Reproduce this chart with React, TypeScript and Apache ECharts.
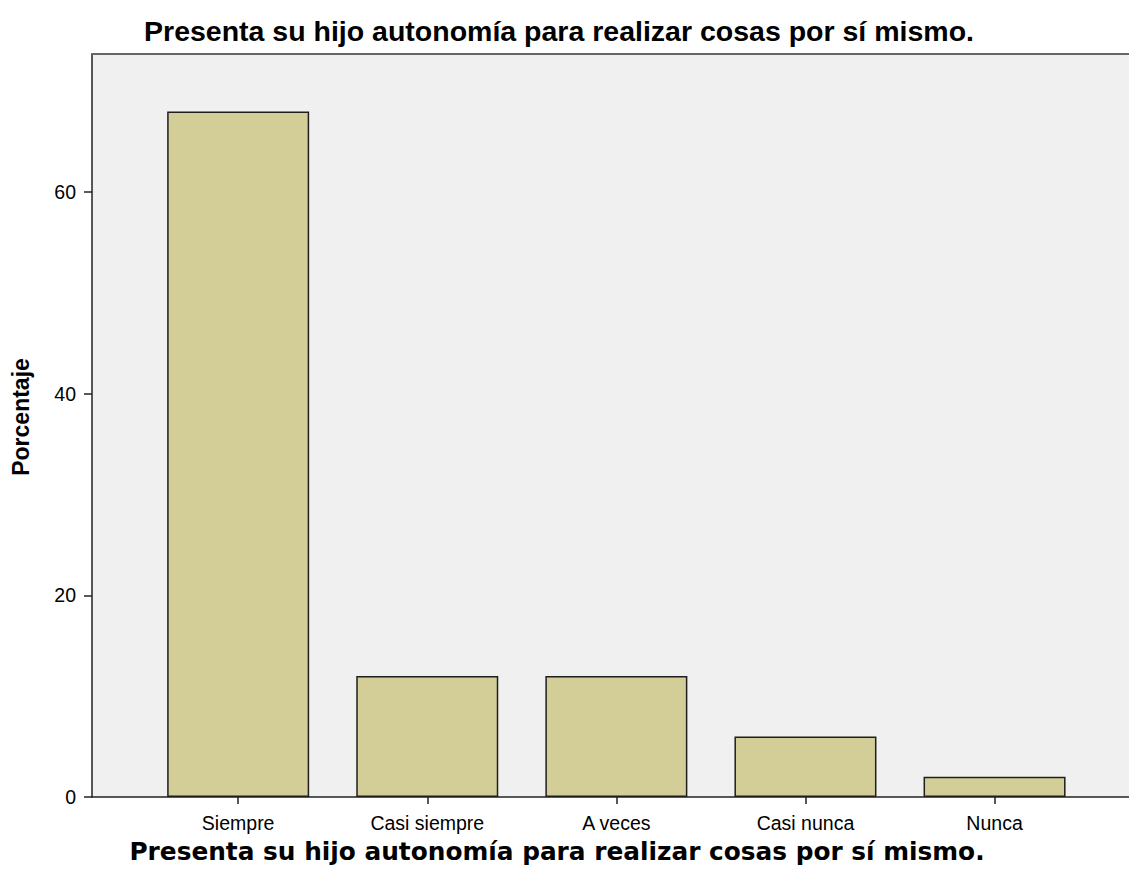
import React, { useEffect, useRef } from "react";
import * as echarts from "echarts";

const chartTitle = "Presenta su hijo autonomía para realizar cosas por sí mismo.";
const xAxisTitle = "Presenta su hijo autonomía para realizar cosas por sí mismo.";
const yAxisTitle = "Porcentaje";
const categories = ["Siempre", "Casi siempre", "A veces", "Casi nunca", "Nunca"];
const percentages = [68, 12, 12, 6, 2];
const yTicks = [0, 20, 40, 60];
const catPositions = categories.map((_, i) => i);

export default function App() {
  const ref = useRef<HTMLDivElement>(null);

  useEffect(() => {
    document.body.style.margin = "0";
    if (!ref.current) return;
    const chart = echarts.init(ref.current, undefined, { renderer: "svg" });
    const xMin = -0.773;
    const xMax = 4.711;
    chart.setOption({
      animation: false,
      backgroundColor: "#ffffff",
      grid: {
        left: 92,
        top: 54,
        right: 0,
        bottom: 83,
        show: true,
        backgroundColor: "#f0f0f0",
        borderWidth: 0,
      },
      xAxis: [
        {
          type: "value",
          position: "bottom",
          min: xMin,
          max: xMax,
          axisLine: { show: true, onZero: false, lineStyle: { color: "#222", width: 1.5 } },
          axisTick: {
            show: true,
            customValues: catPositions,
            length: 7,
            lineStyle: { color: "#222", width: 1.5 },
          },
          axisLabel: {
            customValues: catPositions,
            formatter: (v: number) => categories[Math.round(v)] ?? "",
            fontFamily: "Liberation Sans",
            fontSize: 19.5,
            color: "#000",
            margin: 16,
          },
          splitLine: { show: false },
        },
        {
          type: "value",
          position: "top",
          min: xMin,
          max: xMax,
          axisLine: { show: true, onZero: false, lineStyle: { color: "#666", width: 2 } },
          axisTick: { show: false },
          axisLabel: { show: false },
          splitLine: { show: false },
        },
      ],
      yAxis: {
        type: "value",
        min: 0,
        max: 73.7,
        axisLine: { show: true, onZero: false, lineStyle: { color: "#222", width: 1.5 } },
        axisTick: {
          show: true,
          customValues: yTicks,
          length: 8,
          lineStyle: { color: "#222", width: 1.5 },
        },
        axisLabel: {
          customValues: yTicks,
          fontFamily: "Liberation Sans",
          fontSize: 19.5,
          color: "#000",
          margin: 16,
        },
        splitLine: { show: false },
      },
      series: [
        {
          type: "bar",
          xAxisIndex: 0,
          data: percentages.map((v, i) => [i, v]),
          barWidth: 142,
          itemStyle: { color: "#d3ce97", borderColor: "#1e1e1e", borderWidth: 1.5 },
        },
      ],
      graphic: [
        {
          type: "text",
          x: 559,
          y: 31,
          style: {
            text: chartTitle,
            font: 'bold 28.5px "Liberation Sans"',
            fill: "#000",
            align: "center",
            verticalAlign: "middle",
          },
        },
        {
          type: "text",
          x: 557,
          y: 851,
          style: {
            text: xAxisTitle,
            font: 'bold 24.8px "DejaVu Sans"',
            fill: "#000",
            align: "center",
            verticalAlign: "middle",
          },
        },
        {
          type: "text",
          x: 21,
          y: 417,
          rotation: Math.PI / 2,
          style: {
            text: yAxisTitle,
            font: 'bold 23px "Liberation Sans"',
            fill: "#000",
            align: "center",
            verticalAlign: "middle",
          },
        },
      ],
    });
    return () => chart.dispose();
  }, []);

  return <div ref={ref} style={{ width: 1129, height: 880 }} />;
}
